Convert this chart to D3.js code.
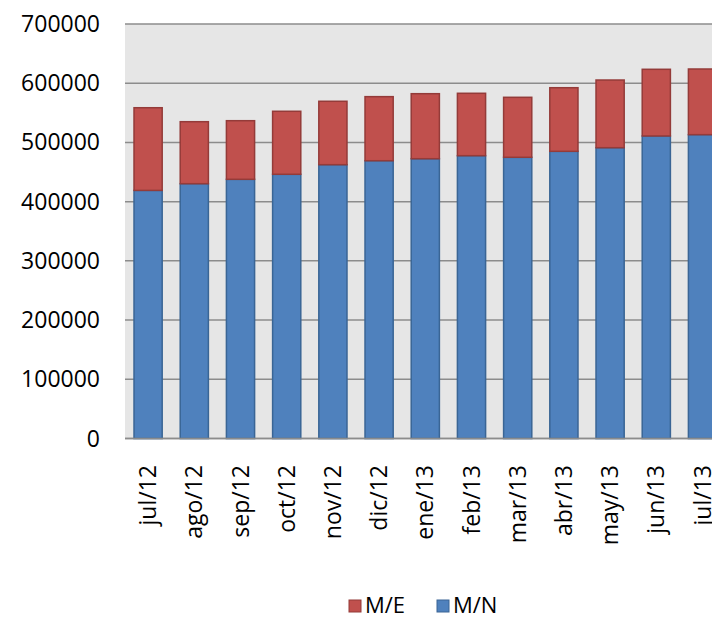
<!DOCTYPE html>
<html lang="es">
<head>
    <meta charset="UTF-8">
    <title>M/N y M/E</title>
    <script src="https://d3js.org/d3.v7.min.js"></script>
    <style>
        body{
            margin: 0;
            background: white;
        }
        text{
            font-family: "Open Sans", "DejaVu Sans", sans-serif;
            fill: #000;
        }
    </style>
</head>
<body>
<svg id="canvas" width="712" height="617"></svg>
<script>
    // categories and series
    let months = ["jul/12","ago/12","sep/12","oct/12","nov/12","dic/12","ene/13","feb/13","mar/13","abr/13","may/13","jun/13","jul/13"];
    let mn = [419000,430300,437700,446200,462400,469100,472500,477600,474900,485000,491100,510900,513100];
    let me = [139600,104700,99000,106400,107100,108200,109800,105400,101300,107400,114300,112600,110900];
    let yTicks = [0,100000,200000,300000,400000,500000,600000,700000];

    let svg = d3.select('svg');
    let plotLeft = 125, plotTop = 24, plotBottom = 438.5, plotRight = 712;
    let step = 46.2;

    let x = d3.scaleBand()
        .domain(months)
        .range([plotLeft, plotLeft + step * months.length])
        .paddingInner(0.39)
        .paddingOuter(0.195);
    let y = d3.scaleLinear().domain([0,700000]).range([plotBottom, plotTop]);

    // plot background
    svg.append('rect')
        .attr('x', plotLeft).attr('y', plotTop)
        .attr('width', plotRight - plotLeft).attr('height', plotBottom - plotTop)
        .attr('fill', '#e6e6e6');

    // gridlines
    svg.append('g').selectAll('line')
        .data(yTicks)
        .enter().append('line')
        .attr('x1', plotLeft).attr('x2', plotRight)
        .attr('y1', d => y(d)).attr('y2', d => y(d))
        .attr('stroke', '#8c8c8c')
        .attr('stroke-width', 1.5);

    // y labels
    svg.append('g').selectAll('text')
        .data(yTicks)
        .enter().append('text')
        .attr('x', 100)
        .attr('y', d => y(d))
        .attr('dy', '0.35em')
        .attr('text-anchor', 'end')
        .style('font-size', '23px')
        .text(d => d);

    let stack = months.map((m,i) => ({m: m, mn: mn[i], me: me[i]}));
    let bars = svg.append('g');
    // M/N (bottom)
    bars.selectAll('rect.mn')
        .data(stack)
        .enter().append('rect')
        .attr('class','mn')
        .attr('x', d => x(d.m))
        .attr('width', x.bandwidth())
        .attr('y', d => y(d.mn))
        .attr('height', d => y(0) - y(d.mn))
        .attr('fill', '#4f81bd')
        .attr('stroke', '#3a6595')
        .attr('stroke-width', 1.5);
    // M/E (top)
    bars.selectAll('rect.me')
        .data(stack)
        .enter().append('rect')
        .attr('class','me')
        .attr('x', d => x(d.m))
        .attr('width', x.bandwidth())
        .attr('y', d => y(d.mn + d.me))
        .attr('height', d => y(d.mn) - y(d.mn + d.me))
        .attr('fill', '#c0504d')
        .attr('stroke', '#943b39')
        .attr('stroke-width', 1.5);

    // x axis line
    svg.append('line')
        .attr('x1', plotLeft).attr('x2', plotRight)
        .attr('y1', plotBottom).attr('y2', plotBottom)
        .attr('stroke', '#8c8c8c')
        .attr('stroke-width', 1.5);

    // month labels, rotated
    svg.append('g').selectAll('text')
        .data(months)
        .enter().append('text')
        .attr('transform', d => 'translate(' + (x(d) + x.bandwidth()/2) + ',465) rotate(-90)')
        .attr('dy', '0.35em')
        .attr('text-anchor', 'end')
        .style('font-size', '23px')
        .text(d => d);

    // legend
    let legend = [{name:'M/E', fill:'#c0504d', stroke:'#943b39', x:349},
                  {name:'M/N', fill:'#4f81bd', stroke:'#3a6595', x:437}];
    let lg = svg.append('g').selectAll('g')
        .data(legend)
        .enter().append('g');
    lg.append('rect')
        .attr('x', d => d.x).attr('y', 600)
        .attr('width', 12).attr('height', 12)
        .attr('fill', d => d.fill)
        .attr('stroke', d => d.stroke);
    lg.append('text')
        .attr('x', d => d.x + 16)
        .attr('y', 605)
        .attr('dy', '0.35em')
        .style('font-size', '22px')
        .text(d => d.name);
</script>
</body>
</html>
